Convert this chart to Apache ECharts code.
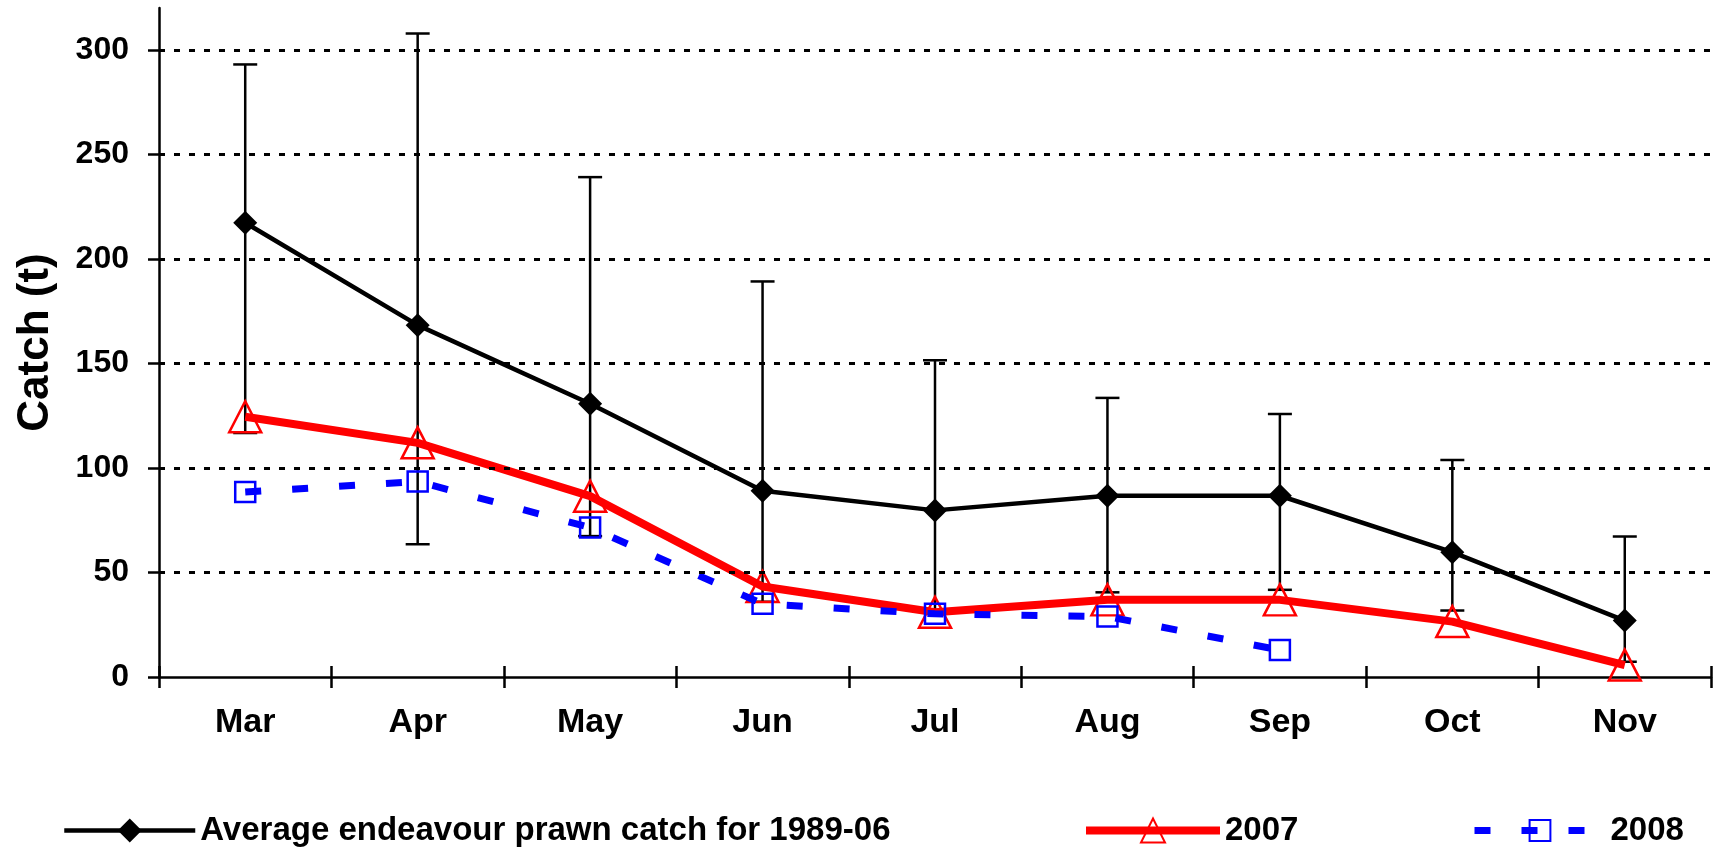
<!DOCTYPE html>
<html>
<head>
<meta charset="utf-8">
<script src="https://cdn.jsdelivr.net/npm/echarts@6/dist/echarts.min.js"></script>
<style>
  html, body { margin: 0; padding: 0; background: #fff; }
  #chart { width: 1723px; height: 849px; }
</style>
</head>
<body>
<div id="chart"></div>
<script>
// ---- data ----
const categories = ['Mar', 'Apr', 'May', 'Jun', 'Jul', 'Aug', 'Sep', 'Oct', 'Nov'];
const avgCatch   = [217.3, 168.3, 130.7, 89.1, 79.7, 86.7, 86.7, 59.7, 27.0];
const errHigh    = [293.0, 307.8, 239.1, 189.2, 151.5, 133.5, 125.8, 103.8, 67.2];
const errLow     = [116.7, 63.5, 67.4, 36.0, 31.0, 40.5, 41.7, 31.8, 7.3];
const catch2007  = [124.5, 112.0, 86.5, 43.3, 31.0, 36.9, 36.9, 26.5, 5.7];
const catch2008  = [88.5, 93.5, 71.5, 35.0, 30.2, 28.9, 12.9, null, null];
const yTicks     = [0, 50, 100, 150, 200, 250, 300];
const gridValues = [50, 100, 150, 200, 250, 300];
const nameAvg = 'Average endeavour prawn catch for 1989-06';
const name2007 = '2007';
const name2008 = '2008';

const FONT = "'Liberation Sans', Arial, sans-serif";
const errData = categories.map((c, i) => [i, errLow[i], errHigh[i]]);

const chart = echarts.init(document.getElementById('chart'), null, { renderer: 'canvas' });

const legendText = { fontFamily: FONT, fontWeight: 'bold', fontSize: 33, color: '#000' };

chart.setOption({
  animation: false,
  backgroundColor: '#fff',
  grid: { left: 159, right: 12, top: 8, bottom: 172, containLabel: false },
  xAxis: [{
    type: 'category',
    data: categories,
    position: 'bottom',
    boundaryGap: true,
    axisLine: { show: true, lineStyle: { color: '#000', width: 2.5 } },
    axisTick: { show: true, inside: false, length: 11, lineStyle: { color: '#000', width: 2.5 } },
    axisLabel: { color: '#000', fontFamily: FONT, fontWeight: 'bold', fontSize: 34, margin: 29 },
    splitLine: { show: false }
  }, {
    type: 'category',
    data: categories,
    position: 'bottom',
    boundaryGap: true,
    axisLine: { show: false },
    axisTick: { show: true, inside: true, length: 11, lineStyle: { color: '#000', width: 2.5 } },
    axisLabel: { show: false },
    splitLine: { show: false }
  }],
  yAxis: {
    type: 'value',
    min: 0,
    max: 320,
    interval: 50,
    name: 'Catch (t)',
    nameLocation: 'middle',
    nameGap: 101,
    nameTextStyle: { color: '#000', fontFamily: FONT, fontWeight: 'bold', fontSize: 44 },
    axisLine: { show: true, lineStyle: { color: '#000', width: 2.5 } },
    axisTick: { show: true, inside: false, length: 11, customValues: yTicks, lineStyle: { color: '#000', width: 2.5 } },
    axisLabel: {
      color: '#000', fontFamily: FONT, fontWeight: 'bold', fontSize: 32, margin: 30,
      customValues: yTicks,
      formatter: v => (yTicks.indexOf(v) >= 0 ? String(v) : '')
    },
    splitLine: { show: false }
  },
  legend: [{
    data: [nameAvg], left: 57, top: 809, itemWidth: 131, itemHeight: 30,
    textStyle: legendText, lineStyle: { width: 4.5 }
  }, {
    data: [name2007], left: 1077, top: 809, itemWidth: 134, itemHeight: 30,
    textStyle: legendText, lineStyle: { width: 8 }
  }, {
    data: [name2008], left: 1466, top: 809, itemWidth: 131, itemHeight: 26,
    textStyle: legendText, lineStyle: { width: 7 }
  }],
  series: [{
    type: 'custom',
    name: 'errors',
    xAxisIndex: 0,
    z: 1,
    silent: true,
    data: errData,
    encode: { x: 0, y: [1, 2] },
    renderItem: function (params, api) {
      const i = api.value(0);
      const lo = api.coord([i, api.value(1)]);
      const hi = api.coord([i, api.value(2)]);
      const half = 12;
      const style = { stroke: '#000', lineWidth: 2.5 };
      return {
        type: 'group',
        children: [
          { type: 'line', shape: { x1: lo[0], y1: lo[1], x2: hi[0], y2: hi[1] }, style: style },
          { type: 'line', shape: { x1: hi[0] - half, y1: hi[1], x2: hi[0] + half, y2: hi[1] }, style: style },
          { type: 'line', shape: { x1: lo[0] - half, y1: lo[1], x2: lo[0] + half, y2: lo[1] }, style: style }
        ]
      };
    },
    markLine: {
      silent: true,
      symbol: ['none', 'none'],
      label: { show: false },
      lineStyle: { color: '#000', width: 3, type: [6, 9] },
      data: gridValues.map(v => ({ yAxis: v }))
    }
  }, {
    type: 'line',
    name: nameAvg,
    xAxisIndex: 0,
    z: 2,
    data: avgCatch,
    symbol: 'diamond',
    symbolSize: [24, 24],
    lineStyle: { color: '#000', width: 4.5 },
    itemStyle: { color: '#000', borderColor: '#000', borderWidth: 0 }
  }, {
    type: 'line',
    name: name2007,
    xAxisIndex: 0,
    z: 3,
    data: catch2007,
    symbol: 'triangle',
    symbolSize: [32, 31],
    lineStyle: { color: '#ff0000', width: 8 },
    itemStyle: { color: 'rgba(0,0,0,0)', borderColor: '#ff0000', borderWidth: 2.5 }
  }, {
    type: 'line',
    name: name2008,
    xAxisIndex: 0,
    z: 4,
    data: catch2008,
    connectNulls: false,
    symbol: 'rect',
    symbolSize: [20, 20],
    lineStyle: { color: '#0000ff', width: 7, type: [16, 31], cap: 'butt' },
    itemStyle: { color: 'rgba(0,0,0,0)', borderColor: '#0000ff', borderWidth: 2.5 }
  }]
});
</script>
</body>
</html>
